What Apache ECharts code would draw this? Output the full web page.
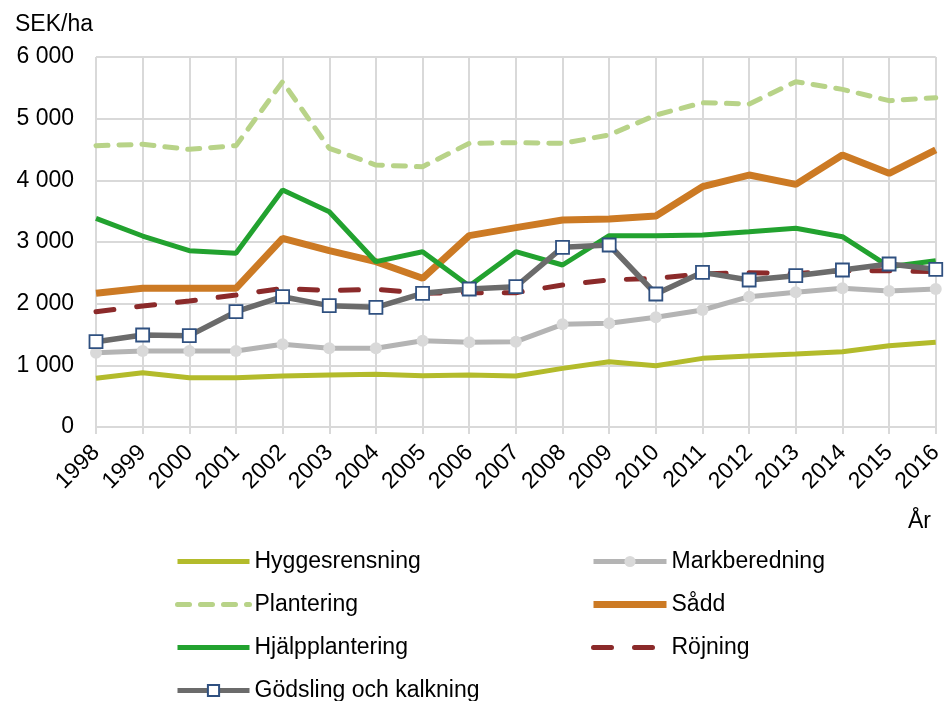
<!DOCTYPE html>
<html>
<head>
<meta charset="utf-8">
<script src="https://cdn.jsdelivr.net/npm/echarts@6/dist/echarts.min.js"></script>
<style>
html,body{margin:0;padding:0;background:#fff;}
#chart{width:946px;height:701px;}
</style>
</head>
<body>
<div id="chart"></div>
<script>
const years = ['1998','1999','2000','2001','2002','2003','2004','2005','2006','2007','2008','2009','2010','2011','2012','2013','2014','2015','2016'];
const hyggesrensning = [790, 880, 800, 800, 827, 843, 854, 832, 843, 827, 951, 1059, 994, 1113, 1151, 1184, 1221, 1318, 1373];
const markberedning = [1205, 1232, 1232, 1232, 1341, 1276, 1276, 1400, 1373, 1384, 1665, 1681, 1779, 1897, 2113, 2184, 2249, 2205, 2238];
const plantering = [4562, 4584, 4503, 4562, 5600, 4519, 4248, 4221, 4600, 4611, 4600, 4735, 5059, 5259, 5238, 5600, 5475, 5292, 5340];
const sadd = [2168, 2249, 2249, 2249, 3060, 2859, 2681, 2411, 3103, 3233, 3357, 3373, 3421, 3897, 4086, 3935, 4411, 4114, 4492];
const hjalpplantering = [3384, 3097, 2859, 2816, 3843, 3491, 2681, 2843, 2286, 2843, 2627, 3103, 3103, 3113, 3167, 3222, 3086, 2600, 2697];
const rojning = [1870, 1962, 2043, 2140, 2249, 2211, 2233, 2168, 2178, 2178, 2303, 2384, 2411, 2481, 2503, 2487, 2535, 2535, 2519];
const godsling = [1384, 1492, 1481, 1870, 2113, 1968, 1941, 2168, 2238, 2276, 2914, 2951, 2157, 2508, 2384, 2454, 2546, 2643, 2557];
const yTicks = [0, 1000, 2000, 3000, 4000, 5000, 6000];

const FONT = 'Liberation Sans, Arial, sans-serif';
const FS = 23;
const gridColor = '#d9d9d9';

const C = {
  hygg: '#b3bb2b', mark: '#b4b4b4', markDot: '#d9d9d9', plant: '#b8d388',
  sadd: '#cc7a24', hjalp: '#22a22f', roj: '#8b2a2a', gods: '#6b6b6b', godsBorder: '#2f5080'
};

const chart = echarts.init(document.getElementById('chart'), null, {renderer: 'canvas'});

const fmt = v => {
  const s = String(v);
  return s.length > 3 ? s.slice(0, s.length - 3) + ' ' + s.slice(-3) : s;
};

const legendText = {fontFamily: FONT, fontSize: FS, color: '#000', lineHeight: 22};
const hidden = {color: 'rgba(0,0,0,0)', borderWidth: 0, opacity: 0};

const option = {
  animation: false,
  textStyle: {fontFamily: FONT},
  grid: {left: 96, right: 6, top: 57, bottom: 274, containLabel: false},
  title: [
    {text: 'SEK/ha', left: 10, top: 8, textStyle: {fontFamily: FONT, fontSize: FS, fontWeight: 'normal', color: '#000'}},
    {text: 'År', left: 903, top: 505, textStyle: {fontFamily: FONT, fontSize: FS, fontWeight: 'normal', color: '#000'}}
  ],
  legend: [
    {
      orient: 'vertical', left: 175, top: 550, width: 360, height: 200, padding: 0, itemGap: 20,
      itemWidth: 72, itemHeight: 14,
      textStyle: legendText,
      data: [
        {name: 'Hyggesrensning', itemStyle: hidden, lineStyle: {width: 5, color: C.hygg}},
        {name: 'Plantering', itemStyle: hidden, lineStyle: {width: 5, color: C.plant, type: [12, 11], cap: 'round'}},
        {name: 'Hjälpplantering', itemStyle: hidden, lineStyle: {width: 5, color: C.hjalp}},
        {name: 'Gödsling och kalkning', lineStyle: {width: 5, color: C.gods}}
      ]
    },
    {
      orient: 'vertical', left: 590, top: 550, width: 300, height: 200, padding: 0, itemGap: 20,
      itemWidth: 73, itemHeight: 14,
      textStyle: legendText,
      data: [
        {name: 'Markberedning', lineStyle: {width: 5, color: C.mark}},
        {name: 'Sådd', itemStyle: hidden, lineStyle: {width: 7, color: C.sadd}},
        {name: 'Röjning', itemStyle: hidden, lineStyle: {width: 5, color: C.roj, type: [18, 23], cap: 'round'}}
      ]
    }
  ],
  xAxis: {
    type: 'category', data: years, boundaryGap: false,
    axisLine: {show: true, lineStyle: {color: gridColor, width: 2}},
    axisTick: {show: true, length: 7, lineStyle: {color: gridColor, width: 2}},
    splitLine: {show: true, lineStyle: {color: gridColor, width: 2}},
    axisLabel: {rotate: 45, margin: 22, fontFamily: FONT, fontSize: FS, color: '#000', interval: 0}
  },
  yAxis: {
    type: 'value', min: yTicks[0], max: yTicks[yTicks.length - 1], interval: 1000,
    axisLine: {show: false},
    axisTick: {show: false},
    splitLine: {show: true, lineStyle: {color: gridColor, width: 2}},
    axisLabel: {margin: 22, fontFamily: FONT, fontSize: FS, color: '#000', formatter: fmt}
  },
  series: [
    {name: 'Hyggesrensning', type: 'line', data: hyggesrensning, symbol: 'none',
     lineStyle: {color: C.hygg, width: 5}, itemStyle: {color: C.hygg}},
    {name: 'Markberedning', type: 'line', data: markberedning, symbol: 'circle', symbolSize: 12,
     lineStyle: {color: C.mark, width: 5}, itemStyle: {color: C.markDot, borderWidth: 0}},
    {name: 'Plantering', type: 'line', data: plantering, symbol: 'none',
     lineStyle: {color: C.plant, width: 5, type: [12, 11], cap: 'round'}, itemStyle: {color: C.plant}},
    {name: 'Sådd', type: 'line', data: sadd, symbol: 'none',
     lineStyle: {color: C.sadd, width: 7}, itemStyle: {color: C.sadd}},
    {name: 'Hjälpplantering', type: 'line', data: hjalpplantering, symbol: 'none',
     lineStyle: {color: C.hjalp, width: 5}, itemStyle: {color: C.hjalp}},
    {name: 'Röjning', type: 'line', data: rojning, symbol: 'none',
     lineStyle: {color: C.roj, width: 5, type: [18, 23], cap: 'round'}, itemStyle: {color: C.roj}},
    {name: 'Gödsling och kalkning', type: 'line', data: godsling, symbol: 'rect', symbolSize: 13,
     lineStyle: {color: C.gods, width: 5.5}, itemStyle: {color: '#ffffff', borderColor: C.godsBorder, borderWidth: 1.8}}
  ]
};
chart.setOption(option);
</script>
</body>
</html>
